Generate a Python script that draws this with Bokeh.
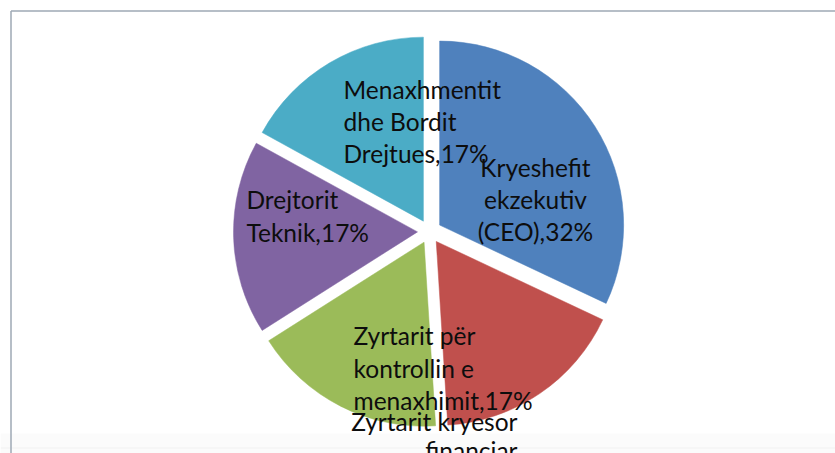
import math
from bokeh.plotting import figure
from bokeh.models import ColumnDataSource, Range1d
from bokeh.core.properties import value
from bokeh.embed import file_html
from bokeh.resources import INLINE

# ---- data ----
categories = ["Kryeshefit ekzekutiv (CEO)", "Zyrtarit kryesor financiar",
              "Zyrtarit për kontrollin e menaxhimit", "Drejtorit Teknik",
              "Menaxhmentit dhe Bordit Drejtues"]
percent = [32, 17, 17, 17, 17]
label_lines = [["Kryeshefit", "ekzekutiv", "(CEO)"],
               ["Zyrtarit kryesor", "financiar", ""],
               ["Zyrtarit për", "kontrollin e", "menaxhimit"],
               ["Drejtorit", "Teknik"],
               ["Menaxhmentit", "dhe Bordit", "Drejtues"]]
colors = ["#4F81BD", "#C0504D", "#9BBB59", "#8064A2", "#4BACC6"]

# ---- layout (pixels, y measured from top) ----
W, H = 835, 453
CX, CY, R, EXPLODE = 429, 231, 184, 12
# label anchor: x, first baseline y, alignment, line spacing
label_pos = [(535, 167, "center", 32),
             (517, 421, "right", 29),
             (353, 335, "left", 32.5),
             (246, 199, "left", 33),
             (343, 89, "left", 32)]
FONT = "Lato"
FONT_SIZE = "24.5px"

p = figure(width=W, height=H, x_range=Range1d(0, W), y_range=Range1d(0, H),
           output_backend="svg", toolbar_location=None, min_border=0,
           x_axis_location=None, y_axis_location=None)
p.grid.visible = False
p.outline_line_color = None
p.background_fill_color = "white"
p.border_fill_color = "white"

# chart-area frame and faint bottom band
p.quad(left=[0], right=[W], bottom=[0], top=[H - 433], fill_color="#fbfbfb", line_color=None)
p.line([0, W], [H - 447.5, H - 447.5], line_color="#f1f1f1", line_width=1)
p.line([10.5, W], [H - 10.5, H - 10.5], line_color="#9ea9b4", line_width=1.5)
p.line([10.5, 10.5], [H - 10.5, 0], line_color="#9ea9b4", line_width=1.5)

# wedges
xs, ys, starts, ends = [], [], [], []
cum = 0.0
for v in percent:
    a0 = math.pi / 2 - cum / 100 * 2 * math.pi
    a1 = math.pi / 2 - (cum + v) / 100 * 2 * math.pi
    mid = (a0 + a1) / 2
    xs.append(CX + EXPLODE * math.cos(mid))
    ys.append((H - CY) + EXPLODE * math.sin(mid))
    starts.append(a0)
    ends.append(a1)
    cum += v

src = ColumnDataSource(dict(x=xs, y=ys, start=starts, end=ends, color=colors, cat=categories))
p.wedge(x="x", y="y", radius=R, start_angle="start", end_angle="end", direction="clock",
        fill_color="color", line_color="color", line_width=0.5, source=src)

# labels
groups = {"left": dict(x=[], y=[], t=[]), "center": dict(x=[], y=[], t=[]), "right": dict(x=[], y=[], t=[])}
for lines, v, (lx, ly, al, sp) in zip(label_lines, percent, label_pos):
    full = list(lines)
    full[-1] = full[-1] + ",%d%%" % v
    for i, ln in enumerate(full):
        g = groups[al]
        g["x"].append(lx)
        g["y"].append(H - (ly + i * sp))
        g["t"].append(ln)

for al, g in groups.items():
    if not g["t"]:
        continue
    p.text(x="x", y="y", text="t", source=ColumnDataSource(g), text_align=al,
           text_baseline="alphabetic", text_font=value(FONT), text_font_size=FONT_SIZE,
           text_color="#0d0d0d")

open("out.html", "w").write(file_html(p, INLINE))
